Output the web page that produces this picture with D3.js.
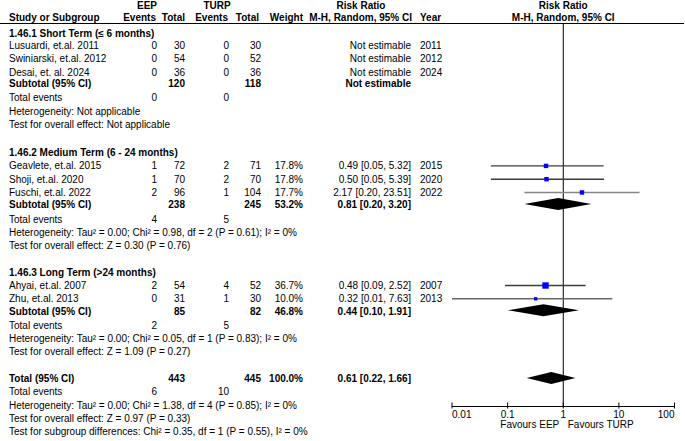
<!DOCTYPE html>
<html>
<head>
<meta charset="utf-8">
<script src="https://cdn.jsdelivr.net/npm/d3@7/dist/d3.min.js"></script>
<style>
html,body{margin:0;padding:0;background:#fff;}
svg{display:block;}
text{font-family:"Liberation Sans",Arial,sans-serif;font-size:10px;fill:#000;}
.b{font-weight:bold;}
</style>
</head>
<body>
<svg id="chart" width="685" height="441"></svg>
<script>
// ---------- data ----------
const groupNames = ["1.46.1 Short Term (\u2264 6 months)", "1.46.2 Medium Term (6 - 24 months)", "1.46.3 Long Term (>24 months)"];
const studyNames = ["Lusuardi, et.al. 2011", "Swiniarski, et.al. 2012", "Desai, et. al. 2024", "Geavlete, et.al. 2015", "Shoji, et.al. 2020", "Fuschi, et.al. 2022", "Ahyai, et.al. 2007", "Zhu, et.al. 2013"];
const studyGroup = [0, 0, 0, 1, 1, 1, 2, 2];
const eepEvents = [0, 0, 0, 1, 1, 2, 2, 0];
const eepTotal = [30, 54, 36, 72, 70, 96, 54, 31];
const turpEvents = [0, 0, 0, 2, 2, 1, 4, 1];
const turpTotal = [30, 52, 36, 71, 70, 104, 52, 30];
const studyWeight = [null, null, null, 17.8, 17.8, 17.7, 36.7, 10.0];
const studyRR = [null, null, null, 0.49, 0.50, 2.17, 0.48, 0.32];
const studyLow = [null, null, null, 0.05, 0.05, 0.20, 0.09, 0.01];
const studyHigh = [null, null, null, 5.32, 5.39, 23.51, 2.52, 7.63];
const studyYear = [2011, 2012, 2024, 2015, 2020, 2022, 2007, 2013];

const subEepTotal = [120, 238, 85];
const subTurpTotal = [118, 245, 82];
const subWeight = [null, 53.2, 46.8];
const subRR = [null, 0.81, 0.44];
const subLow = [null, 0.20, 0.10];
const subHigh = [null, 3.20, 1.91];
const subEepEvents = [0, 4, 2];
const subTurpEvents = [0, 5, 5];
const subHet = ["Heterogeneity: Not applicable",
  "Heterogeneity: Tau\u00b2 = 0.00; Chi\u00b2 = 0.98, df = 2 (P = 0.61); I\u00b2 = 0%",
  "Heterogeneity: Tau\u00b2 = 0.00; Chi\u00b2 = 0.05, df = 1 (P = 0.83); I\u00b2 = 0%"];
const subTest = ["Test for overall effect: Not applicable",
  "Test for overall effect: Z = 0.30 (P = 0.76)",
  "Test for overall effect: Z = 1.09 (P = 0.27)"];

const totalEep = 443, totalTurp = 445, totalWeight = 100.0;
const totalRR = 0.61, totalLow = 0.22, totalHigh = 1.66;
const totalEepEvents = 6, totalTurpEvents = 10;
const totalHet = "Heterogeneity: Tau\u00b2 = 0.00; Chi\u00b2 = 1.38, df = 4 (P = 0.85); I\u00b2 = 0%";
const totalTest = "Test for overall effect: Z = 0.97 (P = 0.33)";
const subgroupTest = "Test for subgroup differences: Chi\u00b2 = 0.35, df = 1 (P = 0.55), I\u00b2 = 0%";

const axisTicks = [0.01, 0.1, 1, 10, 100];
const axisTickLabels = ["0.01", "0.1", "1", "10", "100"];
const favoursLeft = "Favours EEP", favoursRight = "Favours TURP";

// ---------- styles ----------
const ciStroke = {3: "#3c3c3c", 4: "#3c3c3c", 5: "#868686", 6: "#3c3c3c", 7: "#686868"};

// ---------- layout ----------
const svg = d3.select("#chart");
const W = 685;
const col = {name: 9, eepEv: 157, eepTot: 185, turpEv: 229, turpTot: 261, weight: 303, rr: 411, year: 420};
const x = d3.scaleLog().domain([0.01, 100]).range([452, 674.5]);
const y = d3.scaleLinear().domain([0, 30]).range([33, 431.7]);
const fmtW = v => d3.format(".1f")(v) + "%";
const f2 = d3.format(".2f");
const fmtRR = (m, l, h) => `${f2(m)} [${f2(l)}, ${f2(h)}]`;

// build rows (unit positions)
const rows = [];
let u = 0;
groupNames.forEach((g, gi) => {
  const adj = gi === 0 ? -0.12 : 0;
  rows.push({type: "group", u: u, g: gi}); u += 1;
  studyNames.forEach((s, si) => {
    if (studyGroup[si] === gi) { rows.push({type: "study", u: u + (gi === 0 ? -0.05 : 0) + (u > 1 ? adj * 0 : 0), i: si}); u += 1; }
  });
  rows.push({type: "sub", u: u - 0.08 + adj, g: gi}); u += 1;
  rows.push({type: "subEvents", u: u + adj, g: gi}); u += 1;
  rows.push({type: "subHet", u: u + adj, g: gi}); u += 1;
  rows.push({type: "subTest", u: u + adj, g: gi}); u += 1;
  u += 1;
});
rows.push({type: "total", u: u}); u += 1;
rows.push({type: "totEvents", u: u}); u += 1;
rows.push({type: "totHet", u: u}); u += 1;
rows.push({type: "totTest", u: u}); u += 1;
rows.push({type: "subgroupTest", u: u});

function txt(xp, yp, s, anchor, bold) {
  svg.append("text").attr("x", xp).attr("y", yp).attr("dy", "0.35em")
    .attr("text-anchor", anchor || "start").attr("class", bold ? "b" : null).text(s);
}

// ---------- header ----------
const h1 = 5.7, h2 = 17.3;
txt(147, h1, "EEP", "middle", true);
txt(217, h1, "TURP", "middle", true);
txt(361, h1, "Risk Ratio", "middle", true);
txt(x(1), h1, "Risk Ratio", "middle", true);
txt(col.name, h2, "Study or Subgroup", "start", true);
txt(col.eepEv - 1, h2, "Events", "end", true);
txt(col.eepTot, h2, "Total", "end", true);
txt(col.turpEv - 1, h2, "Events", "end", true);
txt(col.turpTot - 2, h2, "Total", "end", true);
txt(col.weight, h2, "Weight", "end", true);
txt(412, h2, "M-H, Random, 95% CI", "end", true);
txt(col.year, h2, "Year", "start", true);
txt(x(1), h2, "M-H, Random, 95% CI", "middle", true);

svg.append("line").attr("x1", 0).attr("x2", W - 1).attr("y1", 23.5).attr("y2", 23.5)
  .attr("stroke", "#000").attr("stroke-width", 1.2);

// ---------- null line & axis ----------
const axisY = 406.5;
svg.append("line").attr("x1", x(1)).attr("x2", x(1)).attr("y1", 23.5).attr("y2", axisY)
  .attr("stroke", "#000").attr("stroke-width", 1);

const axisG = svg.append("g").attr("transform", `translate(0,${axisY})`);
axisG.append("line").attr("x1", x(0.01)).attr("x2", x(100)).attr("stroke", "#000").attr("stroke-width", 1);
axisG.selectAll(".tk").data(axisTicks).enter().append("line")
  .attr("x1", d => x(d)).attr("x2", d => x(d)).attr("y1", -4).attr("y2", 2)
  .attr("stroke", "#000").attr("stroke-width", 1);
axisG.selectAll(".tl").data(axisTicks).enter().append("text")
  .attr("x", d => x(d)).attr("y", 8).attr("dy", "0.35em")
  .attr("text-anchor", (d, i) => i === 0 ? "start" : (i === axisTicks.length - 1 ? "end" : "middle"))
  .text((d, i) => axisTickLabels[i]);
txt(x(1) - 4, 424, favoursLeft, "end");
txt(x(1) + 4.5, 424, favoursRight, "start");

// ---------- rows ----------
function diamond(m, l, h, yc) {
  const hh = 6;
  svg.append("path")
    .attr("d", `M${x(l)},${yc} L${x(m)},${yc - hh} L${x(h)},${yc} L${x(m)},${yc + hh} Z`)
    .attr("fill", "#000");
}

rows.forEach(r => {
  const yc = y(r.u);
  if (r.type === "group") {
    txt(col.name, yc, groupNames[r.g], "start", true);
  } else if (r.type === "study") {
    const i = r.i;
    txt(col.name, yc, studyNames[i]);
    txt(col.eepEv, yc, eepEvents[i], "end");
    txt(col.eepTot, yc, eepTotal[i], "end");
    txt(col.turpEv, yc, turpEvents[i], "end");
    txt(col.turpTot, yc, turpTotal[i], "end");
    if (studyWeight[i] != null) txt(col.weight, yc, fmtW(studyWeight[i]), "end");
    txt(col.rr, yc, studyRR[i] == null ? "Not estimable" : fmtRR(studyRR[i], studyLow[i], studyHigh[i]), "end");
    txt(col.year, yc, studyYear[i]);
    if (studyRR[i] != null) {
      svg.append("line").attr("x1", x(studyLow[i])).attr("x2", x(studyHigh[i]))
        .attr("y1", yc).attr("y2", yc).attr("stroke", ciStroke[i]).attr("stroke-width", 1.4);
      const s = 1.05 * Math.sqrt(studyWeight[i]);
      svg.append("rect").attr("x", x(studyRR[i]) - s / 2).attr("y", yc - s / 2)
        .attr("width", s).attr("height", s).attr("fill", "#0000ff");
    }
  } else if (r.type === "sub") {
    const g = r.g;
    txt(col.name, yc, "Subtotal (95% CI)", "start", true);
    txt(col.eepTot, yc, subEepTotal[g], "end", true);
    txt(col.turpTot, yc, subTurpTotal[g], "end", true);
    if (subWeight[g] != null) txt(col.weight, yc, fmtW(subWeight[g]), "end", true);
    txt(col.rr, yc, subRR[g] == null ? "Not estimable" : fmtRR(subRR[g], subLow[g], subHigh[g]), "end", true);
    if (subRR[g] != null) diamond(subRR[g], subLow[g], subHigh[g], yc - 0.8);
  } else if (r.type === "subEvents") {
    txt(col.name, yc, "Total events");
    txt(col.eepEv, yc, subEepEvents[r.g], "end");
    txt(col.turpEv, yc, subTurpEvents[r.g], "end");
  } else if (r.type === "subHet") {
    txt(col.name, yc, subHet[r.g]);
  } else if (r.type === "subTest") {
    txt(col.name, yc, subTest[r.g]);
  } else if (r.type === "total") {
    txt(col.name, yc, "Total (95% CI)", "start", true);
    txt(col.eepTot, yc, totalEep, "end", true);
    txt(col.turpTot, yc, totalTurp, "end", true);
    txt(col.weight, yc, fmtW(totalWeight), "end", true);
    txt(col.rr, yc, fmtRR(totalRR, totalLow, totalHigh), "end", true);
    diamond(totalRR, totalLow, totalHigh, yc - 0.5);
  } else if (r.type === "totEvents") {
    txt(col.name, yc, "Total events");
    txt(col.eepEv, yc, totalEepEvents, "end");
    txt(col.turpEv, yc, totalTurpEvents, "end");
  } else if (r.type === "totHet") {
    txt(col.name, yc, totalHet);
  } else if (r.type === "totTest") {
    txt(col.name, yc, totalTest);
  } else if (r.type === "subgroupTest") {
    txt(col.name, yc, subgroupTest);
  }
});
</script>
</body>
</html>
